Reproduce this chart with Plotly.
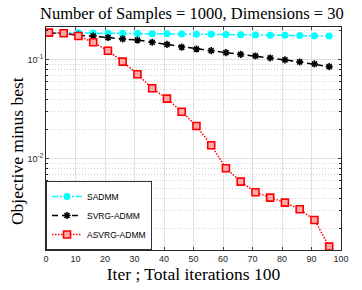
import plotly.graph_objects as go

iters = [1, 6, 11, 16, 21, 26, 31, 36, 41, 46, 51, 56, 61, 66, 71, 76, 81, 86, 91, 96]
sadmm = [0.189, 0.1885, 0.188, 0.1872, 0.1865, 0.1858, 0.185, 0.1842, 0.1835, 0.183,
         0.1822, 0.1815, 0.1805, 0.1798, 0.179, 0.1782, 0.1775, 0.1765, 0.1755, 0.1746]
svrg = [0.1875, 0.1853, 0.178, 0.1746, 0.1686, 0.163, 0.159, 0.151, 0.1436, 0.135,
        0.129, 0.124, 0.1185, 0.114, 0.1097, 0.1047, 0.1, 0.0954, 0.0911, 0.0856]
asvrg = [0.189, 0.186, 0.1746, 0.151, 0.124, 0.0962, 0.0717, 0.0517, 0.0407, 0.030,
         0.0215, 0.01374, 0.00805, 0.0059, 0.00461, 0.00407, 0.00362, 0.0031, 0.00242, 0.0013]
x_ticks = [0, 10, 20, 30, 40, 50, 60, 70, 80, 90, 100]
y_ticks = [0.1, 0.01]
y_tick_text = ["10<sup>-1</sup>", "10<sup>-2</sup>"]
y_minor = [v * d for d in [0.001, 0.01, 0.1] for v in range(2, 10)]

fig = go.Figure()
fig.add_trace(go.Scatter(x=iters, y=sadmm, name="SADMM", mode="lines+markers",
                         line=dict(color="#00FFFF", width=1.5, dash="6px,2px,2px,2px"),
                         marker=dict(symbol="circle", size=7, color="#00FFFF")))
fig.add_trace(go.Scatter(x=iters, y=svrg, name="SVRG-ADMM", mode="lines+markers",
                         line=dict(color="black", width=1.5, dash="6px,4px"),
                         marker=dict(symbol="asterisk-open", size=6, color="black",
                                     line=dict(width=1.6, color="black"))))
fig.add_trace(go.Scatter(x=iters, y=asvrg, name="ASVRG-ADMM", mode="lines+markers",
                         line=dict(color="#FF0000", width=1.5, dash="1.5px,1.5px"),
                         marker=dict(symbol="square", size=7, color="rgba(255,170,170,1)",
                                     line=dict(width=1.6, color="#FF0000"))))

fig.update_layout(
    width=362, height=290,
    margin=dict(l=46, r=21, t=27, b=40),
    paper_bgcolor="white", plot_bgcolor="white",
    title=dict(text="Number of Samples = 1000, Dimensions = 30", x=0.53, xanchor="center",
               y=0.955, yanchor="middle",
               font=dict(family="Liberation Serif", size=16.5, color="black")),
    legend=dict(x=0, y=0, xanchor="left", yanchor="bottom", bgcolor="white",
                bordercolor="#333", borderwidth=1,
                font=dict(family="Liberation Sans", size=8.5, color="black"),
                tracegroupgap=0, itemwidth=30),
    showlegend=True,
    annotations=[dict(text="Objective minus best", textangle=-90, xref="paper", yref="paper",
                      x=-0.098, y=0.444, xanchor="center", yanchor="middle", showarrow=False,
                      font=dict(family="Liberation Serif", size=17.5, color="black"))],
)
fig.update_xaxes(range=[0, 100], tickvals=x_ticks, ticks="inside", ticklen=3,
                 showline=True, linecolor="#262626", mirror="ticks", linewidth=1,
                 showgrid=True, gridcolor="#e0e0e0", zeroline=False,
                 tickfont=dict(family="Liberation Sans", size=9, color="#262626"),
                 title=dict(text="Iter ; Total iterations 100", standoff=2,
                            font=dict(family="Liberation Serif", size=17.5, color="black")))
fig.update_yaxes(type="log", range=[-2.92, -0.667], tickvals=y_ticks, ticktext=y_tick_text,
                 ticks="inside", ticklen=3,
                 showline=True, linecolor="#262626", mirror="ticks", linewidth=1,
                 showgrid=True, gridcolor="#e0e0e0", zeroline=False,
                 minor=dict(showgrid=True, gridcolor="#d0d0d0", griddash="1px,2px",
                            ticks="inside", ticklen=2, tickcolor="#262626",
                            tickvals=y_minor),
                 tickfont=dict(family="Liberation Sans", size=9, color="#262626"))

fig.write_html("out.html", config={"displayModeBar": False},
               post_script="document.body.style.margin='0';")
